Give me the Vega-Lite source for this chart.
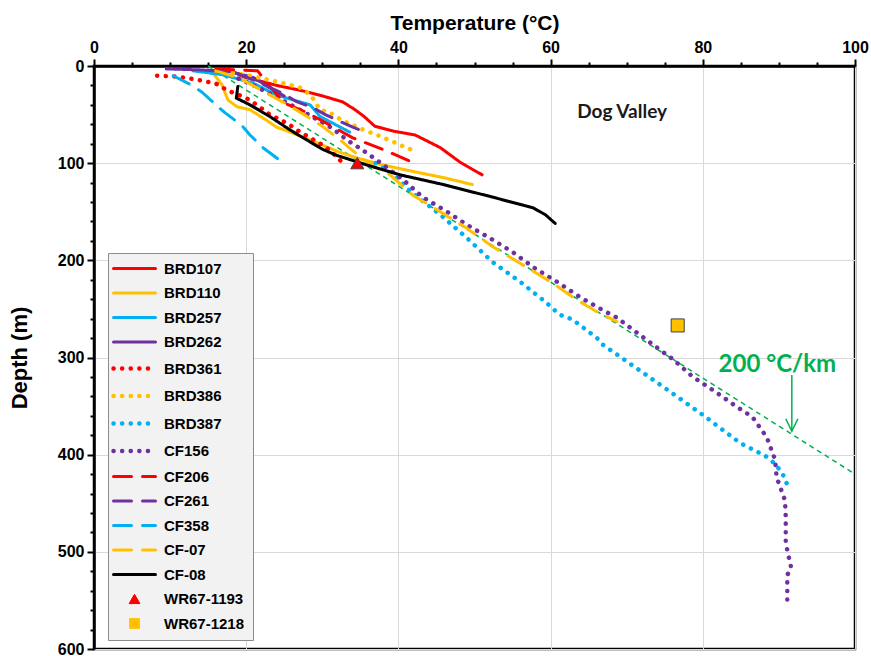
{
  "$schema": "https://vega.github.io/schema/vega-lite/v6.json",
  "width": 761,
  "height": 583,
  "autosize": "none",
  "padding": {"left": 94, "top": 66, "right": 16, "bottom": 7},
  "background": "#ffffff",
  "config": {
    "view": {"stroke": "#000000", "strokeWidth": 2.5},
    "axis": {
      "labelFont": "Liberation Sans",
      "labelFontWeight": "bold",
      "labelFontSize": 16,
      "labelColor": "#000000",
      "titleFont": "Liberation Sans",
      "titleFontWeight": "bold",
      "titleFontSize": 21,
      "titleColor": "#000000",
      "domainColor": "#000000",
      "domainWidth": 2.5,
      "tickColor": "#000000",
      "tickWidth": 2,
      "gridColor": "#d9d9d9",
      "gridWidth": 1
    }
  },
  "datasets": {
    "curves": [
      {"s": "BRD107", "t": 17.5, "d": 3}, {"s": "BRD107", "t": 19.6, "d": 11}, {"s": "BRD107", "t": 24, "d": 20}, {"s": "BRD107", "t": 27.1, "d": 25}, {"s": "BRD107", "t": 30.1, "d": 31}, {"s": "BRD107", "t": 32.7, "d": 37}, {"s": "BRD107", "t": 34.3, "d": 45}, {"s": "BRD107", "t": 35.5, "d": 52}, {"s": "BRD107", "t": 36.9, "d": 62}, {"s": "BRD107", "t": 39.3, "d": 67}, {"s": "BRD107", "t": 42.2, "d": 71}, {"s": "BRD107", "t": 45.5, "d": 84}, {"s": "BRD107", "t": 48.1, "d": 99}, {"s": "BRD107", "t": 51, "d": 112},
      {"s": "BRD110", "t": 15.5, "d": 6}, {"s": "BRD110", "t": 16.8, "d": 19}, {"s": "BRD110", "t": 17.6, "d": 35}, {"s": "BRD110", "t": 18.8, "d": 42}, {"s": "BRD110", "t": 20.5, "d": 45}, {"s": "BRD110", "t": 22.7, "d": 56}, {"s": "BRD110", "t": 24, "d": 63}, {"s": "BRD110", "t": 25.8, "d": 68}, {"s": "BRD110", "t": 29, "d": 78}, {"s": "BRD110", "t": 32, "d": 88}, {"s": "BRD110", "t": 34.7, "d": 95}, {"s": "BRD110", "t": 38, "d": 102}, {"s": "BRD110", "t": 42.2, "d": 109}, {"s": "BRD110", "t": 46, "d": 115}, {"s": "BRD110", "t": 49.7, "d": 122},
      {"s": "BRD257", "t": 13, "d": 5}, {"s": "BRD257", "t": 17, "d": 9}, {"s": "BRD257", "t": 21, "d": 18}, {"s": "BRD257", "t": 24, "d": 30}, {"s": "BRD257", "t": 28.4, "d": 40}, {"s": "BRD257", "t": 29.7, "d": 52}, {"s": "BRD257", "t": 33.6, "d": 68},
      {"s": "BRD262", "t": 9.5, "d": 3}, {"s": "BRD262", "t": 14, "d": 4}, {"s": "BRD262", "t": 18, "d": 6}, {"s": "BRD262", "t": 21, "d": 12}, {"s": "BRD262", "t": 23, "d": 22}, {"s": "BRD262", "t": 25, "d": 31},
      {"s": "BRD361", "t": 8.3, "d": 10}, {"s": "BRD361", "t": 11, "d": 11}, {"s": "BRD361", "t": 13.5, "d": 14}, {"s": "BRD361", "t": 16, "d": 18}, {"s": "BRD361", "t": 17.5, "d": 25}, {"s": "BRD361", "t": 20, "d": 33}, {"s": "BRD361", "t": 21.4, "d": 40}, {"s": "BRD361", "t": 23.1, "d": 50}, {"s": "BRD361", "t": 25.4, "d": 59}, {"s": "BRD361", "t": 27.1, "d": 68}, {"s": "BRD361", "t": 29.3, "d": 78}, {"s": "BRD361", "t": 30.4, "d": 83}, {"s": "BRD361", "t": 31.7, "d": 92}, {"s": "BRD361", "t": 32.7, "d": 100},
      {"s": "BRD386", "t": 16, "d": 5}, {"s": "BRD386", "t": 20, "d": 9}, {"s": "BRD386", "t": 24, "d": 16}, {"s": "BRD386", "t": 27, "d": 22}, {"s": "BRD386", "t": 28.5, "d": 30}, {"s": "BRD386", "t": 29.7, "d": 45}, {"s": "BRD386", "t": 31, "d": 48}, {"s": "BRD386", "t": 32.6, "d": 56}, {"s": "BRD386", "t": 35.5, "d": 66}, {"s": "BRD386", "t": 37.2, "d": 71}, {"s": "BRD386", "t": 39.3, "d": 78}, {"s": "BRD386", "t": 41.3, "d": 85}, {"s": "BRD386", "t": 42.4, "d": 88},
      {"s": "BRD387", "t": 37, "d": 100}, {"s": "BRD387", "t": 39.3, "d": 112}, {"s": "BRD387", "t": 41.9, "d": 131}, {"s": "BRD387", "t": 45.5, "d": 153}, {"s": "BRD387", "t": 49, "d": 177}, {"s": "BRD387", "t": 52.4, "d": 202}, {"s": "BRD387", "t": 56, "d": 222}, {"s": "BRD387", "t": 59.5, "d": 244}, {"s": "BRD387", "t": 61.2, "d": 256}, {"s": "BRD387", "t": 62.9, "d": 261}, {"s": "BRD387", "t": 66.1, "d": 280}, {"s": "BRD387", "t": 66.9, "d": 287}, {"s": "BRD387", "t": 74.4, "d": 328}, {"s": "BRD387", "t": 80, "d": 359}, {"s": "BRD387", "t": 84.9, "d": 388}, {"s": "BRD387", "t": 87.9, "d": 400}, {"s": "BRD387", "t": 88.8, "d": 404}, {"s": "BRD387", "t": 90.4, "d": 418}, {"s": "BRD387", "t": 91.2, "d": 433},
      {"s": "CF156", "t": 19, "d": 13}, {"s": "CF156", "t": 21, "d": 20}, {"s": "CF156", "t": 24, "d": 32}, {"s": "CF156", "t": 27.5, "d": 47}, {"s": "CF156", "t": 31.3, "d": 64}, {"s": "CF156", "t": 33.2, "d": 76}, {"s": "CF156", "t": 35.2, "d": 86}, {"s": "CF156", "t": 37.2, "d": 97}, {"s": "CF156", "t": 38.9, "d": 107}, {"s": "CF156", "t": 40.6, "d": 117}, {"s": "CF156", "t": 43.2, "d": 135}, {"s": "CF156", "t": 46.4, "d": 150}, {"s": "CF156", "t": 49.1, "d": 164}, {"s": "CF156", "t": 52, "d": 177}, {"s": "CF156", "t": 55.1, "d": 192}, {"s": "CF156", "t": 57.9, "d": 208}, {"s": "CF156", "t": 60.8, "d": 222}, {"s": "CF156", "t": 63.9, "d": 238}, {"s": "CF156", "t": 66.8, "d": 251}, {"s": "CF156", "t": 68.7, "d": 259}, {"s": "CF156", "t": 73.5, "d": 287}, {"s": "CF156", "t": 76.1, "d": 302}, {"s": "CF156", "t": 78.7, "d": 320}, {"s": "CF156", "t": 81.6, "d": 335}, {"s": "CF156", "t": 84.5, "d": 351}, {"s": "CF156", "t": 86.5, "d": 361}, {"s": "CF156", "t": 88.4, "d": 382}, {"s": "CF156", "t": 89.5, "d": 405}, {"s": "CF156", "t": 89.7, "d": 423}, {"s": "CF156", "t": 90.8, "d": 447}, {"s": "CF156", "t": 90.9, "d": 464}, {"s": "CF156", "t": 90.9, "d": 491}, {"s": "CF156", "t": 91.6, "d": 516}, {"s": "CF156", "t": 91.1, "d": 524}, {"s": "CF156", "t": 91.1, "d": 550},
      {"s": "CF206", "t": 16, "d": 3}, {"s": "CF206", "t": 21.5, "d": 5}, {"s": "CF206", "t": 23, "d": 20}, {"s": "CF206", "t": 25, "d": 38}, {"s": "CF206", "t": 28, "d": 48}, {"s": "CF206", "t": 30.6, "d": 59}, {"s": "CF206", "t": 34, "d": 74}, {"s": "CF206", "t": 38, "d": 86}, {"s": "CF206", "t": 41.5, "d": 98},
      {"s": "CF261", "t": 15, "d": 4}, {"s": "CF261", "t": 19, "d": 8}, {"s": "CF261", "t": 22, "d": 18}, {"s": "CF261", "t": 25, "d": 29}, {"s": "CF261", "t": 26.7, "d": 37}, {"s": "CF261", "t": 28.8, "d": 43}, {"s": "CF261", "t": 30.4, "d": 50}, {"s": "CF261", "t": 32.6, "d": 58}, {"s": "CF261", "t": 34, "d": 63}, {"s": "CF261", "t": 35.6, "d": 68},
      {"s": "CF358", "t": 10.4, "d": 10}, {"s": "CF358", "t": 12.9, "d": 20}, {"s": "CF358", "t": 14.2, "d": 27}, {"s": "CF358", "t": 16.3, "d": 42}, {"s": "CF358", "t": 17.2, "d": 48}, {"s": "CF358", "t": 19.4, "d": 61}, {"s": "CF358", "t": 20.5, "d": 71}, {"s": "CF358", "t": 22.2, "d": 84}, {"s": "CF358", "t": 24.4, "d": 97},
      {"s": "CF-07", "t": 16, "d": 5}, {"s": "CF-07", "t": 19, "d": 12}, {"s": "CF-07", "t": 22, "d": 25}, {"s": "CF-07", "t": 25.5, "d": 40}, {"s": "CF-07", "t": 28, "d": 52}, {"s": "CF-07", "t": 30, "d": 62}, {"s": "CF-07", "t": 32, "d": 74}, {"s": "CF-07", "t": 34, "d": 87}, {"s": "CF-07", "t": 36, "d": 100}, {"s": "CF-07", "t": 38.9, "d": 112}, {"s": "CF-07", "t": 41.9, "d": 133}, {"s": "CF-07", "t": 45.5, "d": 150}, {"s": "CF-07", "t": 49, "d": 167}, {"s": "CF-07", "t": 52.4, "d": 186}, {"s": "CF-07", "t": 56.4, "d": 205}, {"s": "CF-07", "t": 60.2, "d": 223}, {"s": "CF-07", "t": 63.5, "d": 241}, {"s": "CF-07", "t": 66.1, "d": 253}, {"s": "CF-07", "t": 68.7, "d": 263},
      {"s": "CF-08", "t": 18.9, "d": 21}, {"s": "CF-08", "t": 18.7, "d": 33}, {"s": "CF-08", "t": 20.5, "d": 40}, {"s": "CF-08", "t": 23.1, "d": 52}, {"s": "CF-08", "t": 25.8, "d": 66}, {"s": "CF-08", "t": 27.5, "d": 74}, {"s": "CF-08", "t": 30.1, "d": 86}, {"s": "CF-08", "t": 31.9, "d": 92}, {"s": "CF-08", "t": 35.9, "d": 102}, {"s": "CF-08", "t": 40.2, "d": 112}, {"s": "CF-08", "t": 45.9, "d": 122}, {"s": "CF-08", "t": 52.4, "d": 135}, {"s": "CF-08", "t": 57.7, "d": 146}, {"s": "CF-08", "t": 59.3, "d": 153}, {"s": "CF-08", "t": 60.6, "d": 162}
    ],
    "markers": [
      {"s": "WR67-1193", "t": 34.6, "d": 100},
      {"s": "WR67-1218", "t": 76.7, "d": 267}
    ],
    "gradient": [
      {"t": 15, "d": 0},
      {"t": 100, "d": 420}
    ],
    "arrowShaft": [
      {"t": 91.7, "d1": 318, "d2": 375}
    ],
    "arrowHead": [
      {"k": 1, "t": 90.9, "d": 363},
      {"k": 2, "t": 91.7, "d": 376},
      {"k": 3, "t": 92.5, "d": 363}
    ],
    "notes": [
      {"label": "Dog Valley", "t": 69.4, "d": 47}
    ],
    "rate": [
      {"label": "200 °C/km", "t": 89.8, "d": 308}
    ]
  },
  "encoding": {
    "x": {
      "field": "t",
      "type": "quantitative",
      "scale": {"domain": [0, 100], "nice": false, "zero": false},
      "axis": {
        "orient": "top",
        "title": "Temperature (°C)",
        "values": [0, 5, 10, 15, 20, 25, 30, 35, 40, 45, 50, 55, 60, 65, 70, 75, 80, 85, 90, 95, 100],
        "labelExpr": "datum.value % 20 === 0 ? datum.label : ''",
        "tickSize": {"condition": {"test": "datum.value % 20 === 0", "value": 7}, "value": 4},
        "gridOpacity": {"condition": {"test": "datum.value % 20 === 0", "value": 1}, "value": 0},
        "grid": true,
        "labelPadding": 4,
        "titlePadding": 6,
        "labelFlush": false,
        "labelOverlap": false
      }
    },
    "y": {
      "field": "d",
      "type": "quantitative",
      "scale": {"domain": [0, 600], "nice": false, "reverse": true},
      "axis": {
        "title": "Depth (m)",
        "titleFontSize": 22,
        "values": [0, 20, 40, 60, 80, 100, 120, 140, 160, 180, 200, 220, 240, 260, 280, 300, 320, 340, 360, 380, 400, 420, 440, 460, 480, 500, 520, 540, 560, 580, 600],
        "labelExpr": "datum.value % 100 === 0 ? datum.label : ''",
        "tickSize": {"condition": {"test": "datum.value % 100 === 0", "value": 7}, "value": 4},
        "gridOpacity": {"condition": {"test": "datum.value % 100 === 0", "value": 1}, "value": 0},
        "grid": true,
        "labelPadding": 3,
        "titlePadding": 26,
        "labelFlush": false,
        "labelOverlap": false
      }
    }
  },
  "layer": [
    {
      "data": {"name": "gradient"},
      "mark": {"type": "line", "color": "#00b050", "strokeWidth": 1.5, "strokeDash": [5, 4]},
      "encoding": {"order": {"field": "d", "type": "quantitative"}}
    },
    {
      "data": {"name": "curves"},
      "mark": {"type": "line", "strokeCap": "round", "strokeJoin": "round", "clip": true},
      "encoding": {
        "order": {"field": "d", "type": "quantitative"},
        "color": {
          "field": "s",
          "type": "nominal",
          "scale": {
            "domain": ["BRD107", "BRD110", "BRD257", "BRD262", "BRD361", "BRD386", "BRD387", "CF156", "CF206", "CF261", "CF358", "CF-07", "CF-08", "WR67-1193", "WR67-1218"],
            "range": ["#ff0000", "#ffc000", "#00b0f0", "#7030a0", "#ff0000", "#ffc000", "#00b0f0", "#7030a0", "#ff0000", "#7030a0", "#00b0f0", "#ffc000", "#000000", "#ff0000", "#ffc000"]
          },
          "legend": {
            "orient": "none",
            "legendX": 14,
            "legendY": 187,
            "title": null,
            "fillColor": "#f2f2f2",
            "strokeColor": "#8c8c8c",
            "padding": 8,
            "labelFont": "Liberation Sans",
            "labelFontSize": 15,
            "labelFontWeight": "bold",
            "labelColor": "#000000",
            "labelOffset": 22,
            "symbolOffset": 11,
            "symbolSize": 1764,
            "symbolStrokeWidth": 3,
            "rowPadding": 8.5,
            "encode": {
              "symbols": {
                "update": {
                  "shape": {"signal": "datum.value === 'WR67-1193' ? 'triangle-up' : datum.value === 'WR67-1218' ? 'square' : 'stroke'"},
                  "size": {"signal": "datum.value === 'WR67-1193' ? 110 : datum.value === 'WR67-1218' ? 90 : 1764"},
                  "fill": {"signal": "datum.value === 'WR67-1193' ? '#ff0000' : datum.value === 'WR67-1218' ? '#ffc000' : 'transparent'"},
                  "stroke": {"signal": "datum.value === 'WR67-1193' || datum.value === 'WR67-1218' ? '#404040' : scale('color', datum.value)"},
                  "strokeWidth": {"signal": "datum.value === 'WR67-1193' || datum.value === 'WR67-1218' ? 1 : (indexof(['BRD361','BRD386','BRD387','CF156'], datum.value) >= 0 ? 4.5 : 3)"},
                  "strokeCap": {"value": "round"},
                  "opacity": {"value": 1}
                }
              }
            }
          }
        },
        "strokeDash": {
          "field": "s",
          "type": "nominal",
          "scale": {
            "domain": ["BRD107", "BRD110", "BRD257", "BRD262", "BRD361", "BRD386", "BRD387", "CF156", "CF206", "CF261", "CF358", "CF-07", "CF-08", "WR67-1193", "WR67-1218"],
            "range": [[1, 0], [1, 0], [1, 0], [1, 0], [0.1, 8.5], [0.1, 8.5], [0.1, 8.5], [0.1, 8.5], [18, 11], [18, 11], [18, 11], [18, 11], [1, 0], [1, 0], [1, 0]]
          }
        },
        "strokeWidth": {
          "field": "s",
          "type": "ordinal",
          "legend": null,
          "scale": {
            "type": "ordinal",
            "domain": ["BRD107", "BRD110", "BRD257", "BRD262", "BRD361", "BRD386", "BRD387", "CF156", "CF206", "CF261", "CF358", "CF-07", "CF-08"],
            "range": [3, 3, 3, 3, 4.5, 4.5, 4.5, 4.5, 3, 3, 3, 3, 3]
          }
        }
      }
    },
    {
      "data": {"name": "markers"},
      "mark": {"type": "point", "filled": true, "stroke": "#404040", "strokeWidth": 1, "opacity": 1, "size": 170},
      "encoding": {
        "color": {"field": "s", "type": "nominal"},
        "shape": {
          "field": "s",
          "type": "nominal",
          "legend": null,
          "scale": {"domain": ["WR67-1193", "WR67-1218"], "range": ["triangle-up", "square"]}
        }
      }
    },
    {
      "data": {"name": "arrowShaft"},
      "mark": {"type": "rule", "color": "#00b050", "strokeWidth": 1.5},
      "encoding": {
        "y": {"field": "d1", "type": "quantitative"},
        "y2": {"field": "d2"}
      }
    },
    {
      "data": {"name": "arrowHead"},
      "mark": {"type": "line", "color": "#00b050", "strokeWidth": 1.5},
      "encoding": {"order": {"field": "k", "type": "quantitative"}}
    },
    {
      "data": {"name": "notes"},
      "mark": {"type": "text", "font": "Lato", "fontSize": 19, "fontWeight": "bold", "color": "#1a1a1a"},
      "encoding": {"text": {"field": "label"}}
    },
    {
      "data": {"name": "rate"},
      "mark": {"type": "text", "font": "Lato", "fontSize": 24, "fontWeight": "bold", "color": "#00b050"},
      "encoding": {"text": {"field": "label"}}
    }
  ]
}
